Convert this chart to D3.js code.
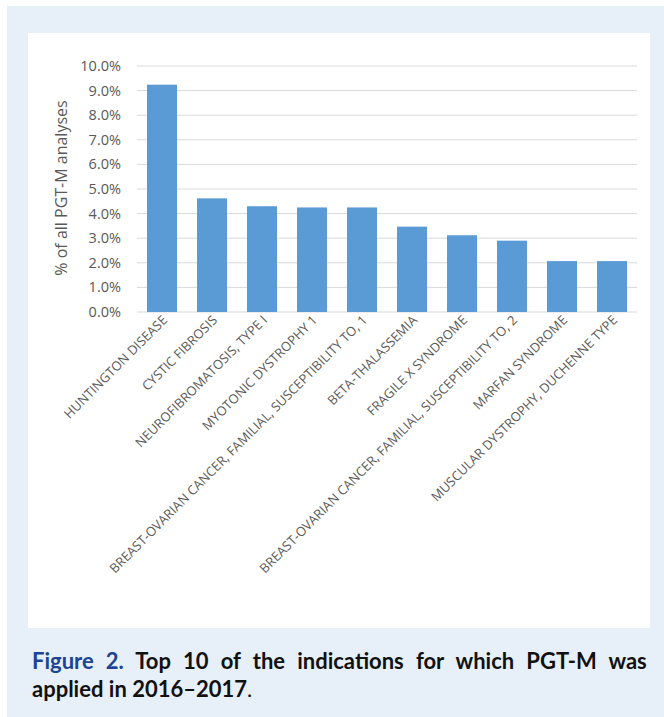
<!DOCTYPE html>
<html>
<head>
<meta charset="utf-8">
<script src="https://cdn.jsdelivr.net/npm/d3@7"></script>
<style>
  body { margin: 0; background: #fff; }
  svg { display: block; }
</style>
</head>
<body>
<div id="chart"></div>
<script>
// top 10 PGT-M indications, 2016-2017
var categories = [
  "HUNTINGTON DISEASE",
  "CYSTIC FIBROSIS",
  "NEUROFIBROMATOSIS, TYPE I",
  "MYOTONIC DYSTROPHY 1",
  "BREAST-OVARIAN CANCER, FAMILIAL, SUSCEPTIBILITY TO, 1",
  "BETA-THALASSEMIA",
  "FRAGILE X SYNDROME",
  "BREAST-OVARIAN CANCER, FAMILIAL, SUSCEPTIBILITY TO, 2",
  "MARFAN SYNDROME",
  "MUSCULAR DYSTROPHY, DUCHENNE TYPE"
];
var values = [9.24, 4.62, 4.30, 4.25, 4.25, 3.47, 3.12, 2.90, 2.07, 2.07];
var yTicks = [0, 1, 2, 3, 4, 5, 6, 7, 8, 9, 10];

var width = 664, height = 717;
var svg = d3.select("#chart").append("svg")
    .attr("width", width)
    .attr("height", height);

// background panel + white chart box
svg.append("rect").attr("x", 0).attr("y", 0).attr("width", width).attr("height", height).attr("fill", "#fff");
svg.append("rect").attr("x", 7).attr("y", 6).attr("width", width - 7).attr("height", height - 6).attr("fill", "#e7eff8");
svg.append("rect").attr("x", 28).attr("y", 33).attr("width", 622).attr("height", 595).attr("fill", "#fff");

var x = d3.scaleBand().domain(categories).range([137, 637]).paddingInner(0.4).paddingOuter(0.2);
var y = d3.scaleLinear().domain([0, 10]).range([312, 66]);

var g = svg.append("g");

// gridlines
g.selectAll(".grid")
  .data(yTicks)
  .enter().append("line")
    .attr("class", "grid")
    .attr("x1", 137).attr("x2", 637)
    .attr("y1", d => y(d)).attr("y2", d => y(d))
    .attr("stroke", "#d9d9d9")
    .attr("stroke-width", 1);

// y tick labels
g.selectAll(".ytick")
  .data(yTicks)
  .enter().append("text")
    .attr("class", "ytick")
    .attr("x", 121)
    .attr("y", d => y(d))
    .attr("dy", "0.35em")
    .attr("text-anchor", "end")
    .style("font-family", "'Open Sans', sans-serif")
    .style("font-size", "14.5px")
    .style("fill", "#595959")
    .text(d => d.toFixed(1) + "%");

// bars
g.selectAll(".bar")
  .data(values)
  .enter().append("rect")
    .attr("class", "bar")
    .attr("x", (d, i) => x(categories[i]))
    .attr("width", x.bandwidth())
    .attr("y", d => y(d))
    .attr("height", d => y(0) - y(d))
    .attr("fill", "#5b9bd5");

// x labels, rotated
g.selectAll(".xlabel")
  .data(categories)
  .enter().append("text")
    .attr("class", "xlabel")
    .attr("transform", d => "translate(" + (x(d) + x.bandwidth() / 2 + 6) + ",321)rotate(-45)")
    .attr("text-anchor", "end")
    .style("font-family", "'Open Sans', sans-serif")
    .style("font-size", "13px")
    .style("fill", "#595959")
    .text(d => d);

// y axis title
svg.append("text")
    .attr("transform", "translate(67,188)rotate(-90)")
    .attr("text-anchor", "middle")
    .style("font-family", "'Open Sans', sans-serif")
    .style("font-size", "16px")
    .style("fill", "#595959")
    .text("% of all PGT-M analyses");

// caption (first line justified to the box width)
var cap = svg.append("text")
    .attr("x", 32).attr("y", 669)
    .style("font-family", "Lato, sans-serif")
    .style("font-weight", "bold")
    .style("font-size", "22px")
    .style("fill", "#111");
cap.append("tspan").style("fill", "#1d4394").text("Figure 2.");
cap.append("tspan").text(" Top 10 of the indications for which PGT-M was");
var natural = cap.node().getComputedTextLength();
var gaps = 9;
cap.style("word-spacing", Math.max(0, (608 - natural) / gaps) + "px");

svg.append("text")
    .attr("x", 32).attr("y", 697)
    .style("font-family", "Lato, sans-serif")
    .style("font-weight", "bold")
    .style("font-size", "22px")
    .style("fill", "#111")
    .text("applied in 2016–2017")
  .append("tspan").style("font-weight", "normal").text(".");
</script>
</body>
</html>
